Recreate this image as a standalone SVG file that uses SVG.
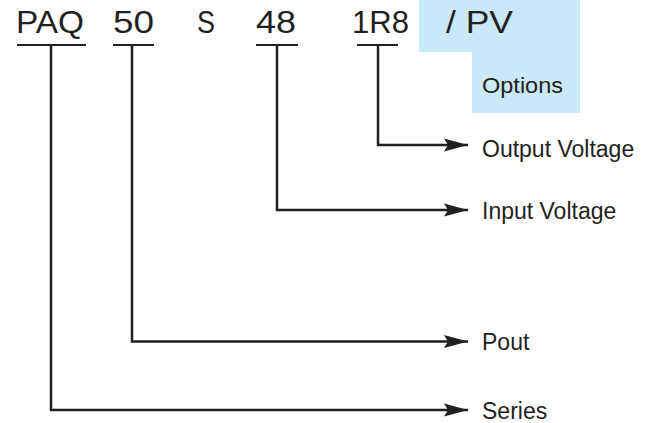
<svg xmlns="http://www.w3.org/2000/svg" width="657" height="423" viewBox="0 0 657 423">
<style>
text{font-family:"Liberation Sans",Arial,sans-serif;fill:#231f20}
.big{font-size:32px}
.lbl{font-size:23px}
.opt{font-size:22px}
.ln{fill:none;stroke:#231f20;stroke-width:2.5}
.ul{stroke:#231f20;stroke-width:2.2}
</style>
<defs>
<marker id="ah" markerUnits="userSpaceOnUse" markerWidth="26" markerHeight="14" refX="24" refY="7" orient="auto">
<path d="M0,0.5 L24,7 L0,13.5 L4,7 Z" fill="#231f20"/>
</marker>
</defs>
<g id="options-bg">
<path d="M419,0 H580 V113 H472 V52 H419 Z" fill="#c9e9f8"/>
</g>
<g id="paq"><text class="big" x="16" y="33" textLength="68" lengthAdjust="spacingAndGlyphs">PAQ</text><line class="ul" x1="17" y1="45" x2="86" y2="45"/></g>
<g id="p50"><text class="big" x="113" y="33" textLength="41" lengthAdjust="spacingAndGlyphs">50</text><line class="ul" x1="113" y1="45" x2="154" y2="45"/></g>
<g id="s"><text class="big" x="197" y="33" textLength="18" lengthAdjust="spacingAndGlyphs">S</text></g>
<g id="p48"><text class="big" x="256" y="33" textLength="40" lengthAdjust="spacingAndGlyphs">48</text><line class="ul" x1="256" y1="45" x2="298" y2="45"/></g>
<g id="p1r8"><text class="big" x="352" y="33" textLength="57" lengthAdjust="spacingAndGlyphs">1R8</text><line class="ul" x1="357" y1="45" x2="398" y2="45"/></g>
<g id="pv"><text class="big" x="446" y="33" textLength="67" lengthAdjust="spacingAndGlyphs">/ PV</text></g>
<g id="options"><text class="opt" x="482" y="93" textLength="81" lengthAdjust="spacingAndGlyphs">Options</text></g>
<g id="out-lbl"><text class="lbl" x="482" y="157">Output Voltage</text></g>
<g id="in-lbl"><text class="lbl" x="482" y="219">Input Voltage</text></g>
<g id="pout-lbl"><text class="lbl" x="482" y="350">Pout</text></g>
<g id="series-lbl"><text class="lbl" x="482" y="419">Series</text></g>
<g id="connectors">
<path class="ln" d="M378,45 V145 H468" marker-end="url(#ah)"/>
<path class="ln" d="M277,45 V210 H468" marker-end="url(#ah)"/>
<path class="ln" d="M132,45 V341.5 H468" marker-end="url(#ah)"/>
<path class="ln" d="M51,45 V410 H468" marker-end="url(#ah)"/>
</g>
</svg>
